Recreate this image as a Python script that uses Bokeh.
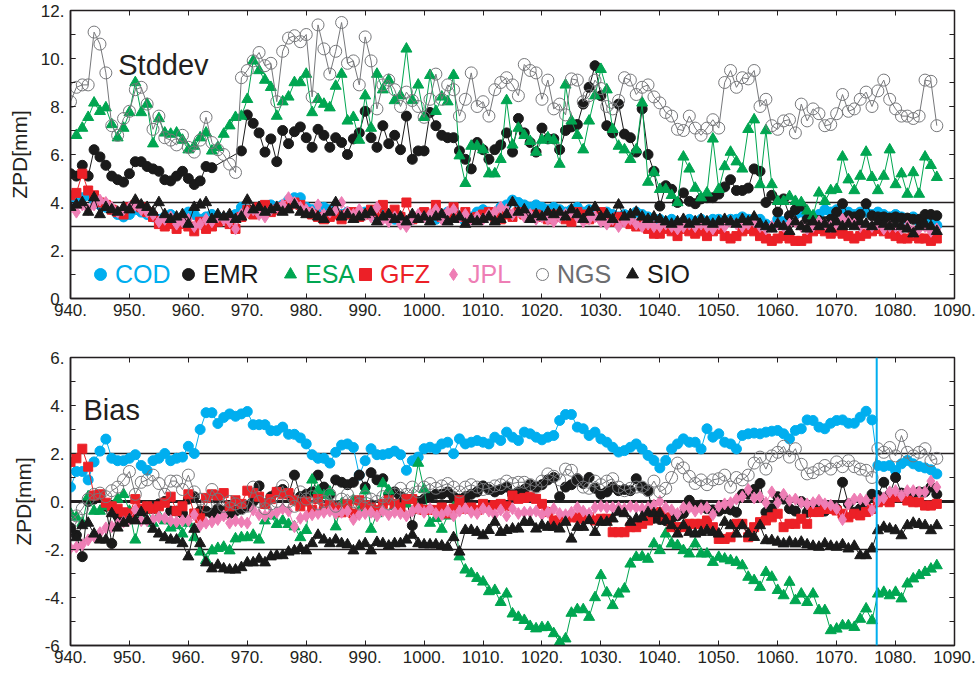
import math
from bokeh.plotting import figure
from bokeh.layouts import column
from bokeh.models import (Span, Label, Legend, LegendItem, LinearAxis,
                          SingleIntervalTicker, CustomJSTickFormatter, Range1d)
from bokeh.embed import file_html
from bokeh.resources import INLINE

nan = float("nan")

# ---------------- data (GPS weeks 940 .. 1087) ----------------
WEEK_START = 940
N_WEEKS = 148
weeks = list(range(WEEK_START, WEEK_START + N_WEEKS))

BREAK_WEEK = 1076.8

# ---- Stddev panel ----
STD_COD = [
    4.0, 4.1, 4.2, 4.3, 4.1, 3.9, 3.8, 3.7, 3.5, 3.4,
    3.5, 3.7, 3.6, 3.5, 3.4, 3.3, 3.4, 3.5, 3.3, 3.4,
    3.6, 3.5, 3.3, 3.4, 3.5, 3.4, 3.3, 3.4, 3.5, 3.8,
    3.7, 3.6, 3.7, 3.8, 3.9, 3.8, 3.9, 4.1, 4.2, 4.2,
    3.8, 3.7, 3.6, 3.8, 3.7, 3.6, 3.5, 3.6, 3.4, 3.5,
    3.6, 3.5, 3.4, 3.6, 3.5, 3.3, 3.4, 3.2, 3.3, 3.4,
    3.5, 3.4, 3.3, 3.5, 3.6, 3.7, 3.4, 3.2, 3.4, 3.6,
    3.7, 3.6, 3.5, 3.8, 3.9, 4.1, 4.0, 3.9, 3.8, 3.9,
    3.8, 3.7, 3.8, 3.7, 3.6, 3.7, 3.8, 3.6, 3.7, 3.6,
    3.5, 3.6, 3.5, 3.4, 3.5, 3.4, 3.6, 3.5, 3.4, 3.3,
    3.3, 3.2, 3.3, 3.1, 3.2, 3.3, 3.2, 3.3, 3.2, 3.3,
    3.3, 3.2, 3.3, 3.3, 3.4, 3.3, 3.2, 3.3, 3.1, 3.0,
    3.3, 3.2, 3.4, 3.5, 3.6, 3.5, 3.4, 3.5, 3.7, 3.6,
    3.7, 3.6, 3.6, 3.5, 3.6, 3.6, 3.5, 3.6, 3.5, 3.4,
    3.5, 3.4, 3.3, 3.4, 3.2, 3.3, 3.1, 3.05,
]
STD_EMR = [
    5.2, 5.1, 5.55, 5.1, 6.2, 5.9, 5.55, 5.1, 4.95, 4.85,
    5.2, 5.7, 5.7, 5.5, 5.4, 5.3, 4.95, 4.9, 5.1, 5.3,
    5.0, 4.75, 4.9, 5.5, 5.45, nan, nan, nan, nan, 6.15,
    7.65, 7.3, 6.9, 6.1, 6.65, 5.7, 7.0, 6.45, 6.95, 7.15,
    6.7, 6.3, 7.05, 6.8, 6.3, 6.7, 6.5, 6.0, 6.65, 6.9,
    7.8, 6.7, 6.3, 7.2, 6.45, 6.8, 6.2, 7.6, 5.8, 6.15,
    6.15, 7.75, 7.2, 6.8, 6.7, 6.7, 6.15, 5.8, 5.4, 6.5,
    6.2, 5.8, 6.2, 6.4, 6.9, 6.1, 7.5, 6.9, 6.5, 6.1,
    7.1, 6.65, 6.65, 6.2, 7.0, 7.15, 7.25, 8.1, 8.8, 9.7,
    8.45, 7.2, 6.9, 8.1, 6.85, 6.7, 6.1, 7.9, 6.0, 5.3,
    3.85, 4.7, 4.55, 4.0, 4.4, 4.05, 3.95, 4.15, 4.2, 4.2,
    4.35, 4.65, 4.95, 4.5, 4.5, 4.6, 5.4, 5.3, 4.0, 4.3,
    3.6, 4.15, 3.45, 3.7, 3.85, 3.3, 3.3, 3.25, 3.2, 3.3,
    3.6, 3.95, 3.45, 3.4, 3.5, 3.95, 3.45, 3.4, 3.4, 3.35,
    3.4, 3.35, 3.35, 3.3, 3.3, 3.5, 3.5, 3.45,
]
STD_ESA = [
    nan, 6.8, 7.1, 7.55, 8.15, 7.8, 7.95, 7.25, 6.7, 7.1,
    7.75, 9.0, 7.75, 8.1, 6.45, 7.5, 6.9, 6.85, 6.9, 6.6,
    6.2, 6.35, 6.7, 6.9, 6.15, 6.3, 6.85, 7.2, 7.55, 7.6,
    8.3, 9.9, 9.5, 9.1, 8.8, 7.6, 8.2, 8.4, 9.0, 9.0,
    9.35, 7.75, 8.3, 8.1, 7.95, 8.85, 9.35, 7.4, 7.55, 6.6,
    8.45, 7.1, 9.35, 8.7, 9.1, 8.25, 8.45, 10.4, 8.25, 8.9,
    7.55, 9.3, 7.8, 8.4, 8.2, 9.3, 5.95, 4.8, 6.35, 6.35,
    6.2, 5.2, 5.2, 5.8, 8.25, 6.4, 7.1, 6.8, 6.55, 6.1,
    6.6, 6.7, 6.6, 5.6, 8.9, 7.4, 6.8, 6.2, 7.4, 8.45,
    9.55, 8.7, 7.05, 6.35, 6.2, 5.8, 6.2, 8.15, 4.85, 5.25,
    4.55, 4.55, 4.3, 4.0, 5.9, 5.4, 4.6, 4.2, 4.4, 6.65,
    4.55, 5.5, 6.1, 5.7, 5.4, 7.05, 7.45, 4.75, 7.0, 4.75,
    4.05, 4.05, 4.25, 4.05, 4.0, 3.65, 3.45, 4.4, 4.05, 4.5,
    4.55, 5.9, 4.95, 4.5, 5.1, 6.1, 5.05, 4.5, 5.1, 6.2,
    4.75, 5.2, 4.35, 5.25, 4.35, 5.9, 5.55, 5.05,
]
STD_GFZ = [
    4.3, 4.4, 5.2, 4.5, 4.3, 4.0, 3.9, 3.7, 3.6, 3.5,
    3.8, 3.9, 3.8, 3.6, 3.4, 3.1, 3.0, 3.1, 2.9, 3.1,
    3.0, 2.8, 3.2, 2.9, 3.0, 3.2, 3.3, 3.1, 2.9, 3.4,
    3.7, 3.5, 3.8, 3.9, 3.6, 3.7, 3.8, 3.9, 4.0, 3.9,
    3.6, 3.5, 3.4, 3.3, 3.4, 3.5, 3.3, 3.5, 3.6, 3.4,
    3.5, 3.7, 3.6, 3.9, 3.5, 3.7, 3.4, 4.0, 3.3, 3.4,
    3.6, 3.5, 3.9, 3.4, 3.5, 3.8, 3.4, 3.6, 3.3, 3.4,
    3.5, 3.6, 3.4, 3.3, 3.5, 3.4, 3.6, 3.5, 3.4, 3.5,
    3.4, 3.3, 3.5, 3.4, 3.3, 3.2, 3.6, 3.5, 3.3, 3.4,
    3.6, 3.3, 3.2, 3.4, 3.2, 3.1, 3.0, 3.1, 2.9, 2.7,
    2.7, 2.9, 2.8, 2.6, 2.9, 2.8, 2.7, 2.8, 2.6, 2.8,
    2.9, 2.6, 2.5, 2.6, 2.8, 2.9, 2.8, 2.6, 2.5, 2.4,
    2.5, 2.6, 2.5, 2.4, 2.4, 2.5, 2.8, 2.9, 2.8, 2.7,
    2.8, 2.7, 2.6, 2.5, 2.6, 2.7, 2.8, 2.9, 2.8, 2.7,
    2.6, 2.5, 2.5, 2.6, 2.5, 2.5, 2.4, 2.5,
]
STD_JPL = [
    3.8, 3.6, 3.9, 3.7, 3.9, 4.1, 4.0, 3.8, 3.6, 3.7,
    3.8, 3.9, 3.7, 3.6, 3.5, 3.2, 3.3, 3.4, 3.1, 3.2,
    3.3, 3.0, 3.1, 3.3, 3.2, 3.4, 3.3, 3.2, 2.9, 3.5,
    3.6, 3.7, 3.5, 3.4, 3.7, 3.8, 3.9, 4.2, 4.0, 3.8,
    3.7, 3.6, 3.9, 3.5, 3.6, 3.7, 4.0, 3.6, 3.5, 3.7,
    3.5, 3.4, 3.8, 3.3, 3.2, 3.4, 3.1, 3.0, 3.3, 3.5,
    3.4, 3.5, 3.7, 3.3, 3.6, 3.7, 3.4, 3.5, 3.3, 3.4,
    3.3, 3.5, 3.6, 3.8, 3.7, 3.5, 3.6, 3.4, 3.5, 3.3,
    3.4, 3.3, 3.2, 3.4, 3.5, 3.6, 3.4, 3.2, 3.3, 3.4,
    3.2, 3.1, 3.3, 3.0, 3.2, 3.3, 3.1, 3.0, 3.1, 3.0,
    3.0, 3.1, 3.0, 2.9, 3.0, 3.1, 3.0, 3.1, 3.0, 2.9,
    3.1, 3.0, 3.2, 3.1, 3.0, 3.1, 3.2, 3.0, 2.9, 3.0,
    3.1, 3.0, 3.1, 3.2, 3.0, 2.9, 3.0, 3.2, 3.1, 3.0,
    3.1, 3.3, 3.2, 3.1, 3.0, 3.1, 3.0, 3.1, 2.9, 3.0,
    3.0, 2.9, 3.0, 2.8, 2.9, 3.0, 2.8, 2.9,
]
STD_NGS = [
    8.2, 8.8, 8.9, 8.9, 11.1, 10.6, 9.4, 7.2, 6.8, 7.5,
    7.8, 8.7, 8.8, 8.1, 7.05, 7.6, 6.7, 6.6, 6.4, 6.8,
    6.3, 6.1, 6.6, 7.55, 6.5, 6.2, 6.0, 5.6, 5.25, 9.2,
    9.5, 9.9, 10.25, 9.7, 9.8, 8.2, 10.3, 10.85, 10.95, 10.7,
    11.0, 8.4, 11.4, 10.4, 9.35, 10.3, 11.5, 9.8, 9.9, 8.9,
    10.9, 9.9, 7.9, 8.9, 9.1, 8.7, 8.0, 8.6, 8.25, 8.0,
    7.55, 8.3, 9.35, 8.3, 8.9, 8.7, 7.6, 8.3, 9.4, 8.0,
    8.2, 7.6, 8.7, 9.0, 9.2, 8.9, 8.45, 9.75, 9.5, 9.4,
    8.3, 9.1, 7.9, 8.1, 7.65, 9.15, 9.1, 8.2, 8.45, 9.1,
    8.75, 8.0, 7.9, 8.25, 9.2, 9.1, 8.5, 8.8, 8.9, 8.4,
    8.15, 7.75, 7.6, 7.05, 7.0, 7.6, 7.1, 6.8, 7.1, 7.45,
    7.1, 9.0, 9.5, 8.8, 9.2, 9.15, 9.5, 8.0, 8.3, 7.2,
    7.05, 7.4, 7.45, 6.9, 8.1, 7.4, 7.9, 7.7, 7.2, 7.25,
    7.7, 8.5, 7.8, 7.9, 8.3, 8.6, 8.0, 8.65, 9.1, 8.3,
    7.9, 7.6, 7.6, 7.5, 7.6, 9.1, 9.05, 7.2,
]
STD_SIO = [
    3.8, 3.9, 4.0, 3.6, 4.2, 3.5, 3.8, 3.7, 3.6, 3.8,
    3.7, 4.1, 3.9, 3.8, 3.6, 4.0, 3.5, 3.3, 3.4, 3.5,
    3.1, 3.8, 3.9, 4.0, 3.3, 3.5, 3.4, 3.5, 3.3, 3.4,
    4.1, 3.7, 3.8, 3.6, 3.7, 3.8, 3.6, 3.7, 3.9, 3.6,
    3.5, 3.5, 3.4, 3.3, 3.6, 4.0, 3.4, 3.5, 3.3, 3.4,
    3.5, 3.6, 3.2, 3.4, 3.5, 3.3, 3.4, 3.2, 3.5, 3.3,
    3.4, 3.2, 3.4, 3.5, 3.2, 3.3, 3.4, 3.1, 3.3, 3.2,
    3.3, 3.4, 3.2, 3.3, 3.5, 4.0, 3.6, 3.7, 3.3, 3.5,
    3.4, 3.6, 3.5, 3.6, 3.4, 3.7, 3.5, 3.3, 3.6, 3.8,
    3.4, 3.5, 3.3, 3.9, 3.4, 3.5, 3.6, 3.4, 3.3, 3.4,
    3.3, 3.2, 3.1, 3.2, 3.3, 3.1, 3.2, 3.3, 3.2, 3.1,
    3.2, 3.3, 3.2, 3.1, 3.3, 3.2, 3.4, 3.1, 3.0, 2.9,
    3.1, 3.0, 2.8, 3.2, 3.0, 2.9, 3.2, 3.0, 3.1, 2.9,
    3.2, 3.0, 3.1, 3.0, 3.2, 3.1, 3.0, 3.2, 3.1, 3.0,
    3.1, 3.0, 2.9, 2.7, 3.0, 3.1, 3.0, 2.8,
]

# ---- Bias panel ----
BIAS_COD = [
    0.6, 1.25, 1.25, 0.9, 1.65, 2.1, 2.6, 1.8, 1.7, 1.7,
    1.8, 1.95, 1.5, 1.3, 1.7, 1.8, 2.0, 1.7, 1.8, 1.85,
    2.3, 2.0, 3.0, 3.7, 3.7, 3.25, 3.5, 3.65, 3.55, 3.65,
    3.75, 3.2, 3.2, 3.2, 2.95, 2.95, 3.1, 2.8, 2.8, 2.65,
    2.4, 1.95, 1.8, 1.8, 1.6, 2.05, 2.35, 2.4, 2.25, 1.1,
    1.7, 2.2, 1.95, 1.95, 2.0, 2.1, 1.95, 1.3, 1.7, 1.85,
    2.2, 2.26, 2.19, 2.4, 2.47, 1.99, 2.61, 2.4, 2.47, 2.54,
    2.47, 2.4, 2.68, 2.54, 2.89, 2.68, 2.54, 2.89, 2.82, 2.68,
    2.57, 2.68, 2.75, 3.375, 3.625, 3.625, 3.1, 3.03, 2.75, 2.89,
    2.61, 2.47, 2.26, 2.06, 2.12, 2.26, 2.4, 2.19, 1.92, 1.71,
    1.4, 1.71, 2.19, 2.4, 2.61, 2.47, 2.47, 2.19, 3.03, 2.68,
    2.82, 2.47, 2.4, 2.19, 2.75, 2.82, 2.85, 2.82, 2.89, 2.93,
    2.96, 2.82, 2.61, 2.96, 3.03, 3.4, 3.375, 3.1, 3.03, 3.26,
    3.375, 3.4, 3.26, 3.26, 3.51, 3.76, 3.4, 1.5, 1.46, 1.5,
    1.29, 1.57, 1.71, 1.57, 1.46, 1.4, 1.32, 1.15,
]
BIAS_EMR = [
    -1.1, -1.4, -2.3, 0.0, 0.1, 0.2, -0.2, -1.75, -0.6, -0.5,
    -0.6, -0.7, -0.4, -0.3, -0.3, -0.1, 0.0, -0.4, -0.4, -0.5,
    0.1, 0.2, -0.4, -0.4, -0.5, -0.3, -0.4, -0.5, -0.4, -0.3,
    -0.2, 0.0, 0.65, -0.1, 0.2, 0.4, 0.5, 0.3, 1.1, 0.2,
    0.3, 0.4, 1.1, 0.6, 0.3, 0.9, 0.8, 0.7, 0.8, 1.1,
    0.6, 1.2, 0.9, 0.95, 0.3, 0.4, 0.2, 0.1, -1.0, 0.0,
    0.1, 0.2, 0.3, 0.3, 0.4, 0.2, 0.1, 0.2, 0.3, 0.4,
    0.65, 0.5, 0.4, 0.5, 0.6, 0.3, 0.4, 0.5, 0.7, 0.6,
    0.7, 0.9, 1.0, 0.2, 0.6, 0.7, 0.95, 0.75, 1.0, 0.55,
    0.3, 0.4, 0.6, 0.45, 0.5, 0.45, 0.95, 0.6, 0.45, -0.7,
    -0.75, -0.8, -0.7, -0.6, -0.5, 0.05, -0.25, -0.15, -0.3, -0.35,
    -0.4, -0.3, -0.35, -0.45, 0.3, 0.3, 0.5, 0.75, -0.45, -0.3,
    0.2, 0.1, -0.3, -0.4, 0.0, -0.45, -0.3, -0.3, -0.4, -0.2,
    -0.3, 0.8, -0.1, -0.45, -0.3, -0.2, 0.3, 0.25, 0.8, 0.3,
    1.0, 0.35, 0.3, 0.35, 0.4, 0.4, 0.6, 0.3,
]
BIAS_ESA = [
    -0.5, -0.65, -0.9, 0.2, -0.4, -0.4, -0.2, -0.25, 0.1, 0.3,
    -0.4, -1.6, -0.5, -0.25, -0.9, -0.6, -0.8, -1.1, -1.0, -1.35,
    -0.9, -1.5, -2.1, -2.45, -2.05, -1.95, -1.9, -2.05, -1.55, -1.5,
    -1.5, -1.4, -1.6, -0.8, -0.6, -0.95, -0.8, -0.95, -1.05, -1.5,
    -1.2, 0.9, 0.45, 0.25, 0.4, -1.05, -0.1, -0.25, 0.05, -0.4,
    0.45, -1.15, -0.5, 0.75, 0.45, -0.2, -0.3, -0.1, 0.1, 1.6,
    0.5, -0.9, -0.7, -1.15, -0.6, -0.25, -2.3, -2.85, -3.0, -3.2,
    -3.35, -3.75, -3.7, -4.2, -3.85, -4.68, -4.82, -4.95, -5.2, -5.3,
    -5.25, -5.24, -5.5, -5.86, -5.72, -4.65, -4.5, -4.5, -4.82, -4.0,
    -3.08, -3.8, -4.33, -3.85, -3.64, -2.6, -2.32, -2.3, -2.4, -1.76,
    -2.04, -1.35, -1.76, -1.83, -2.04, -2.18, -1.76, -2.18, -2.18, -2.53,
    -2.32, -2.39, -2.46, -2.53, -2.67, -3.15, -3.29, -3.57, -2.95, -3.15,
    -3.7, -3.92, -3.36, -4.125, -3.85, -4.2, -3.85, -4.54, -4.54, -5.375,
    -5.31, -5.17, -5.17, -5.24, -4.9, -4.47, -4.96, -3.85, -3.78, -3.92,
    -3.78, -4.05, -3.43, -3.22, -3.08, -2.95, -2.81, -2.67,
]
BIAS_GFZ = [
    1.65, 1.8, 2.2, 1.45, 0.25, 0.3, -0.05, -0.2, -0.3, -0.45,
    -0.5, 0.1, -0.3, -0.2, -0.3, -0.2, -0.05, 0.2, -0.4, -0.2,
    0.3, -0.5, -0.7, 0.15, 0.3, 0.25, 0.35, -0.2, 0.05, -0.1,
    0.45, 0.35, 0.2, -0.1, 0.1, 0.4, 0.3, 0.35, 0.05, -0.2,
    0.0, -0.35, 0.1, -0.3, -0.15, -0.25, -0.45, -0.1, -0.5, 0.05,
    -0.15, -0.25, -0.35, -0.1, 0.05, -0.1, -0.25, 0.1, 0.1, -0.3,
    -0.35, -0.35, -0.35, -0.25, -0.5, -0.3, 0.05, -0.3, -0.25, -0.35,
    -0.1, -0.25, -0.15, -0.1, -0.2, 0.25, 0.11, 0.15, 0.2, 0.11,
    -0.1, -0.44, -0.79, -0.79, -0.72, -0.66, -0.66, -0.72, -0.66, -0.79,
    -0.72, -0.72, -1.28, -1.28, -1.28, -1.07, -1.07, -0.93, -0.79, -0.44,
    -0.44, -0.66, -1.07, -1.07, -1.07, -0.93, -0.93, -0.93, -0.79, -1.07,
    -1.56, -1.56, -1.49, -0.93, -0.93, -1.49, -1.07, -0.86, -0.79, -0.66,
    -0.51, -1.07, -0.93, -0.93, -0.72, -0.93, -0.44, -0.44, -0.31, -0.31,
    -0.375, -0.51, -0.66, -0.51, -0.58, -0.44, -0.31, -0.03, 0.04, -0.03,
    0.18, 0.18, 0.04, -0.03, -0.03, -0.17, -0.17, -0.1,
]
BIAS_JPL = [
    -1.95, -1.9, -1.8, -1.6, -1.45, -1.3, -1.1, -1.05, -0.95, -0.85,
    -0.75, -0.35, -0.8, -0.8, -0.75, -0.65, -0.7, -0.8, -0.85, -0.8,
    -0.8, -0.55, -1.0, -0.9, -0.85, -0.75, -0.6, -0.9, -0.8, -0.85,
    -0.9, -0.35, -0.55, -0.6, -0.5, -0.45, -0.3, -0.4, -1.05, -0.7,
    -0.6, -0.55, -0.5, -0.45, -0.4, -0.5, -0.45, -0.4, -0.75, -0.55,
    -0.5, -0.45, -0.6, -0.4, -0.55, -0.45, -0.5, -0.6, -0.4, -0.3,
    -0.45, -0.3, -0.5, -0.55, -0.4, -0.6, -0.4, -0.3, -0.45, -0.5,
    -0.3, -0.4, -0.55, -0.35, -0.6, -0.3, -0.5, -0.45, -0.45, -0.4,
    -0.55, -0.45, -0.3, -0.5, -0.55, -0.45, -0.25, -0.4, -0.5, -0.25,
    -0.2, -0.25, -0.25, -0.25, -0.3, -0.2, -0.25, -0.3, -0.25, -0.15,
    0.0, -0.25, -0.35, -0.5, -0.25, -0.25, -0.4, -0.3, -0.25, -0.55,
    -0.2, -0.1, -0.05, 0.1, 0.2, 0.5, 0.15, 0.2, -0.05, 0.4,
    -0.05, 0.3, 0.05, 0.1, -0.05, -0.1, -0.05, 0.05, -0.1, -0.15,
    -0.3, -0.75, -0.1, 0.1, 0.1, 0.05, -0.35, 0.05, 0.15, 0.4,
    0.45, 0.25, 0.45, 0.45, 0.4, 0.4, 0.85, 0.6,
]
BIAS_NGS = [
    -0.8, -0.6, -0.3, 0.1, 0.3, 0.35, 0.2, 0.45, 0.6, 0.9,
    1.25, 0.3, 0.8, 0.9, 1.1, 0.75, 0.3, 0.85, 0.85, 0.5,
    1.1, 0.4, 0.1, -0.2, 0.5, 0.1, -0.2, 0.0, -0.1, -0.3,
    -0.2, 0.6, 0.0, -0.3, -0.1, 0.0, 0.65, 0.0, -0.2, 0.4,
    0.1, 0.2, -0.1, 0.0, 0.3, -0.2, 0.1, 0.3, 0.0, -0.1,
    0.2, 0.1, 0.0, 0.2, -0.1, 0.3, 0.55, 0.3, 0.6, 0.4,
    0.6, 0.75, 0.55, 0.65, 0.75, 0.6, 0.4, 0.6, 0.7, 0.6,
    0.5, 0.55, 0.65, 0.7, 0.85, 0.75, 0.8, 0.8, 0.7, 0.6,
    0.85, 1.15, 1.05, 0.9, 1.35, 1.3, 0.9, 0.6, 0.55, 0.85,
    0.7, 0.85, 0.95, 0.6, 0.45, 0.55, 0.6, 0.6, 0.45, 0.85,
    0.4, 0.55, 1.0, 1.6, 1.4, 1.05, 0.75, 0.9, 0.7, 0.9,
    0.95, 1.1, 0.6, 1.0, 0.9, 1.1, 1.6, 1.85, 1.35, 1.9,
    2.05, 2.3, 1.85, 2.2, 1.55, 1.15, 1.2, 1.35, 1.5, 1.35,
    1.65, 1.45, 1.7, 1.45, 1.35, 1.3, 1.0, 2.2, 2.05, 2.25,
    1.9, 2.75, 2.05, 1.9, 2.05, 2.2, 1.7, 1.8,
]
BIAS_SIO = [
    -1.1, -1.5, -1.0, -0.9, -1.35, -1.6, -1.6, -0.5, -1.1, -0.9,
    -0.75, -0.8, -0.45, -0.8, -1.15, -1.35, -1.5, -1.6, -1.6, -1.75,
    -2.3, -1.15, -1.75, -2.55, -2.8, -2.65, -2.8, -2.85, -2.85, -2.75,
    -2.55, -2.55, -2.4, -2.55, -2.3, -2.25, -2.25, -2.1, -2.05, -1.95,
    -2.05, -1.75, -1.4, -1.6, -1.75, -1.6, -1.75, -1.8, -2.05, -1.85,
    -1.75, -2.05, -1.7, -1.75, -1.85, -1.75, -1.75, -1.6, -1.4, -1.75,
    -1.8, -1.8, -1.8, -1.85, -1.9, -1.5, -2.1, -1.2, -1.2, -1.28,
    -1.42, -1.2, -0.86, -1.28, -1.2, -1.14, -1.14, -0.86, -0.86, -1.14,
    -1.0, -1.07, -1.07, -1.14, -0.86, -1.56, -1.07, -1.07, -0.79, -1.28,
    -0.86, -0.86, -0.72, -0.44, -0.5, -0.86, -0.72, -0.65, -0.46, -0.5,
    -0.5, -0.8, -1.0, -1.35, -1.0, -1.28, -1.35, -1.28, -1.21, -1.28,
    -1.35, -0.86, -1.0, -1.35, -1.0, -1.35, -1.49, -1.0, -1.625, -1.625,
    -1.69, -1.76, -1.69, -1.76, -1.69, -1.8, -1.86, -1.9, -1.76, -1.86,
    -1.9, -1.8, -1.97, -1.86, -2.25, -2.25, -1.97, -1.21, -1.07, -1.14,
    -1.21, -1.42, -1.0, -0.9, -0.95, -1.0, -1.21, -1.0,
]

NAMES = ["COD", "EMR", "ESA", "GFZ", "JPL", "NGS", "SIO"]
STD = dict(zip(NAMES, [STD_COD, STD_EMR, STD_ESA, STD_GFZ, STD_JPL, STD_NGS, STD_SIO]))
BIAS = dict(zip(NAMES, [BIAS_COD, BIAS_EMR, BIAS_ESA, BIAS_GFZ, BIAS_JPL, BIAS_NGS, BIAS_SIO]))
for tbl in (STD, BIAS):
    for k, v in tbl.items():
        if len(v) != N_WEEKS:
            raise SystemExit("length mismatch %s %d" % (k, len(v)))

STD_REF_LINES = [2, 3, 4]
BIAS_REF_LINES = [2, -2]
BIAS_ZERO = 0

# ---------------- style ----------------
FONT = "Liberation Sans"
INK = "#231F20"
TICK_FONT = "17px"
STYLE = {
    "COD": dict(marker="circle", color="#00AEEF", size=10, fill=True, text="#00AEEF"),
    "EMR": dict(marker="circle", color="#1A1A1A", size=10, fill=True, text="#1A1A1A"),
    "ESA": dict(marker="triangle", color="#00A651", size=11, fill=True, text="#00A651"),
    "GFZ": dict(marker="square", color="#EC2027", size=9, fill=True, text="#EC2027"),
    "JPL": dict(marker="diamond", color="#EE7EB5", size=12, fill=True, text="#EE7EB5"),
    "NGS": dict(marker="circle", color="#77787B", size=12, fill=False, text="#6D6E71"),
    "SIO": dict(marker="triangle", color="#1A1A1A", size=11, fill=True, text="#1A1A1A"),
}
LEGEND_CENTERS = [100, 188, 290, 365, 453, 542, 632]   # page px of legend symbols
LEG_GLYPH = 30

W = 979
LEFT, RIGHT = 70, 25


def label_fmt():
    return CustomJSTickFormatter(code="return tick.toFixed(0) + '.';")


def blank_fmt():
    return CustomJSTickFormatter(code="return '';")


def make_fig(height, yr, top, bottom):
    p = figure(width=W, height=height, x_range=Range1d(940, 1090), y_range=Range1d(*yr),
               output_backend="svg", toolbar_location=None,
               min_border_left=LEFT, min_border_right=RIGHT,
               min_border_top=top, min_border_bottom=bottom)
    p.xgrid.visible = False
    p.ygrid.visible = False
    p.outline_line_color = INK
    p.outline_line_width = 1.5
    p.background_fill_color = "white"
    p.border_fill_color = "white"

    p.xaxis.ticker = SingleIntervalTicker(interval=10, num_minor_ticks=0)
    p.yaxis.ticker = SingleIntervalTicker(interval=2, num_minor_ticks=2)
    for ax in p.xaxis + p.yaxis:
        ax.formatter = label_fmt()
        ax.axis_line_color = INK
        ax.axis_line_width = 1.5
        ax.major_tick_in = 5
        ax.major_tick_out = 0
        ax.minor_tick_in = 5
        ax.minor_tick_out = 0
        ax.major_tick_line_color = INK
        ax.minor_tick_line_color = INK
        ax.major_label_text_font = FONT
        ax.major_label_text_font_size = TICK_FONT
        ax.major_label_text_color = INK
    p.xaxis.major_label_standoff = 5
    p.yaxis.major_label_standoff = 6
    p.yaxis.axis_label = "ZPD[mm]"
    p.yaxis.axis_label_text_font = FONT
    p.yaxis.axis_label_text_font_style = "normal"
    p.yaxis.axis_label_text_font_size = "21px"
    p.yaxis.axis_label_text_color = INK
    p.yaxis.axis_label_standoff = 7

    top_ax = LinearAxis(ticker=SingleIntervalTicker(interval=10, num_minor_ticks=0),
                        formatter=blank_fmt())
    right_ax = LinearAxis(ticker=SingleIntervalTicker(interval=2, num_minor_ticks=2),
                          formatter=blank_fmt())
    for ax in (top_ax, right_ax):
        ax.axis_line_color = None
        ax.major_tick_in = 5
        ax.major_tick_out = 0
        ax.minor_tick_in = 5
        ax.minor_tick_out = 0
        ax.major_tick_line_color = INK
        ax.minor_tick_line_color = INK
        ax.major_label_text_font_size = "1px"
        ax.major_label_standoff = 0
    p.add_layout(top_ax, "above")
    p.add_layout(right_ax, "right")
    return p


def draw_series(p, name, values):
    st = STYLE[name]
    xs = [w for w, v in zip(weeks, values) if not math.isnan(v)]
    ys = [v for v in values if not math.isnan(v)]
    p.line(xs, ys, line_color=st["color"], line_width=1)
    r = p.scatter(xs, ys, marker=st["marker"], size=st["size"],
                  fill_color=st["color"] if st["fill"] else None,
                  line_color=st["color"], line_width=1)
    return r


# ---------------- top panel: Stddev ----------------
p1 = make_fig(345, (0, 12), 10, 47)
for y in STD_REF_LINES:
    p1.add_layout(Span(location=y, dimension="width", line_color=INK, line_width=1.5, level="underlay"))
rends = {}
for n in NAMES:
    rends[n] = draw_series(p1, n, STD[n])

p1.add_layout(Label(x=948.1, y=9.75, text="Stddev", text_font=FONT, text_font_size="29px",
                    text_color=INK, text_baseline="alphabetic"))

for n, cx in zip(NAMES, LEGEND_CENTERS):
    leg = Legend(items=[LegendItem(label=n, renderers=[rends[n]])],
                 location=(cx - LEFT - LEG_GLYPH // 2, 9), orientation="horizontal",
                 glyph_width=LEG_GLYPH, glyph_height=30, label_standoff=-3,
                 padding=0, margin=0, spacing=0,
                 border_line_color=None, background_fill_alpha=0,
                 label_text_font=FONT, label_text_font_size="25px",
                 label_text_color=STYLE[n]["text"])
    p1.add_layout(leg)

# ---------------- bottom panel: Bias ----------------
p2 = make_fig(326, (-6, 6), 12, 26)
for y in BIAS_REF_LINES:
    p2.add_layout(Span(location=y, dimension="width", line_color=INK, line_width=1.5, level="underlay"))
p2.add_layout(Span(location=BIAS_ZERO, dimension="width", line_color=INK, line_width=3, level="underlay"))
for n in NAMES:
    draw_series(p2, n, BIAS[n])
p2.add_layout(Span(location=BREAK_WEEK, dimension="height", line_color="#00AEEF", line_width=2))
p2.add_layout(Label(x=942.2, y=3.8, text="Bias", text_font=FONT, text_font_size="29px",
                    text_color=INK, text_baseline="alphabetic"))

layout = column(p1, p2, spacing=0)
open("out.html", "w").write(file_html(layout, INLINE))
